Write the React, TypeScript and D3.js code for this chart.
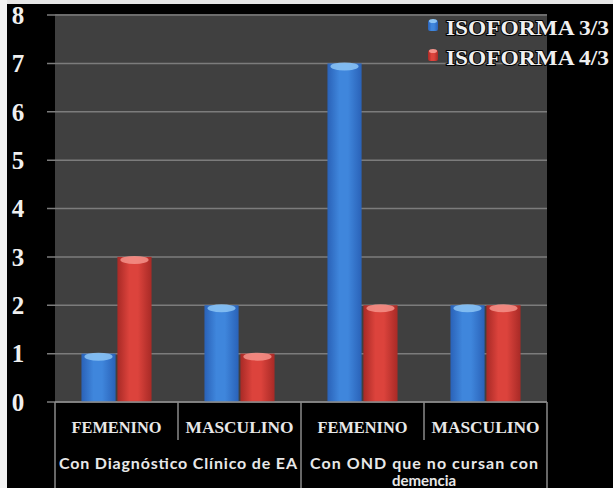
import React from "react";
import * as d3 from "d3";

const categories = ["FEMENINO", "MASCULINO", "FEMENINO", "MASCULINO"];
const groups = ["Con Diagnóstico Clínico de EA", "Con OND que no cursan con demencia"];
const seriesNames = ["ISOFORMA 3/3", "ISOFORMA 4/3"];
const iso33 = [1, 2, 7, 2];
const iso43 = [3, 1, 2, 2];
const yTicks = [0, 1, 2, 3, 4, 5, 6, 7, 8];

const W = 613, H = 488;
const plotL = 55, plotR = 547, plotT = 14, y0 = 402, y8 = 15;

export default function App() {
  const x = d3.scaleBand<number>().domain(d3.range(categories.length)).range([plotL, plotR]).paddingInner(0.43).paddingOuter(0.215);
  const xs = d3.scaleBand<number>().domain([0, 1]).range([0, x.bandwidth()]).paddingInner(0.05);
  const y = d3.scaleLinear().domain([0, 8]).range([y0, y8]);
  const catStep = (plotR - plotL) / categories.length;
  const series = [iso33, iso43];
  const colors = [
    { id: "gb", dark: "#2a62b8", mid: "#3f86dc", cap: "#8cc4f4" },
    { id: "gr", dark: "#a82a26", mid: "#dc433c", cap: "#f4928a" },
  ];
  const serif = "'Liberation Serif', 'DejaVu Serif', serif";
  const sans = "Lato, 'Open Sans', sans-serif";
  const glow = { paintOrder: "stroke" as const, stroke: "#000", strokeWidth: 2 };
  const g2 = groups[1].split(" ");
  const line1 = g2.slice(0, 6).join(" ");
  const line2 = g2.slice(6).join(" ");
  return (
    <svg width={W} height={H} style={{ position: "absolute", left: 0, top: 0, display: "block" }}>
      <defs>
        {colors.map((c) => (
          <linearGradient key={c.id} id={c.id} x1="0" x2="1" y1="0" y2="0">
            <stop offset="0" stopColor={c.dark} />
            <stop offset="0.35" stopColor={c.mid} />
            <stop offset="0.6" stopColor={c.mid} />
            <stop offset="1" stopColor={c.dark} />
          </linearGradient>
        ))}
      </defs>
      <rect x={0} y={0} width={W} height={H} fill="#000" />
      <rect x={0} y={0} width={W} height={4} fill="#e6e6e6" />
      <rect x={0} y={0} width={7} height={H} fill="#f2f2f2" />
      <rect x={plotL} y={plotT} width={plotR - plotL} height={y0 - plotT} fill="#404040" />
      {yTicks.map((t) => (
        <g key={t}>
          <line x1={47} x2={plotR} y1={y(t)} y2={y(t)} stroke="#7c7c7c" strokeWidth={1.5} />
          <text x={18} y={y(t)} dy="0.35em" textAnchor="middle" fill="#f0f0f0" fontFamily={serif} fontWeight="bold" fontSize={25}>{t}</text>
        </g>
      ))}
      {series.map((vals, si) =>
        vals.map((v, ci) => {
          const bx = (x(ci) as number) + (xs(si) as number);
          const bw = xs.bandwidth();
          const by = y(v);
          const c = colors[si];
          return (
            <g key={`${si}-${ci}`}>
              <rect x={bx} y={by} width={bw} height={y0 - by} fill={`url(#${c.id})`} />
              <ellipse cx={bx + bw / 2} cy={by + 3} rx={bw / 2 - 3} ry={4} fill={c.cap} opacity={0.85} />
            </g>
          );
        })
      )}
      <line x1={plotL} x2={plotR} y1={y0} y2={y0} stroke="#8a8a8a" strokeWidth={1.5} />
      {d3.range(categories.length + 1).map((i) => {
        const xx = plotL + i * catStep;
        const major = i % 2 === 0;
        return <line key={i} x1={xx} x2={xx} y1={y0} y2={major ? H : 440} stroke="#8a8a8a" strokeWidth={1.5} />;
      })}
      {categories.map((c, i) => (
        <text key={i} x={plotL + (i + 0.5) * catStep} y={433} textAnchor="middle" fill="#e8e8e8" fontFamily={serif} fontWeight="bold" fontSize={17} textLength={i % 2 === 0 ? 90 : 108} lengthAdjust="spacingAndGlyphs" style={glow}>{c}</text>
      ))}
      <text x={plotL + catStep} y={469} textAnchor="middle" fill="#e8e8e8" fontFamily={sans} fontWeight="bold" fontSize={16} textLength={238} lengthAdjust="spacing" style={glow}>{groups[0]}</text>
      <text x={plotL + 3 * catStep} y={469} textAnchor="middle" fill="#e8e8e8" fontFamily={sans} fontWeight="bold" fontSize={16} textLength={228} lengthAdjust="spacing" style={glow}>{line1}</text>
      <text x={plotL + 3 * catStep} y={486} textAnchor="middle" fill="#e8e8e8" fontFamily={sans} fontWeight="bold" fontSize={15} style={glow}>{line2}</text>
      {seriesNames.map((s, i) => {
        const ly = 26 + i * 30;
        const c = colors[i];
        return (
          <g key={s}>
            <rect x={428} y={ly - 6} width={10} height={11} rx={2} fill={`url(#${c.id})`} />
            <ellipse cx={433} cy={ly - 5} rx={4} ry={2} fill={c.cap} />
            <text x={446} y={ly + 9} fill="#f0f0f0" fontFamily={serif} fontWeight="bold" fontSize={22} textLength={163} lengthAdjust="spacingAndGlyphs" style={glow}>{s}</text>
          </g>
        );
      })}
    </svg>
  );
}
